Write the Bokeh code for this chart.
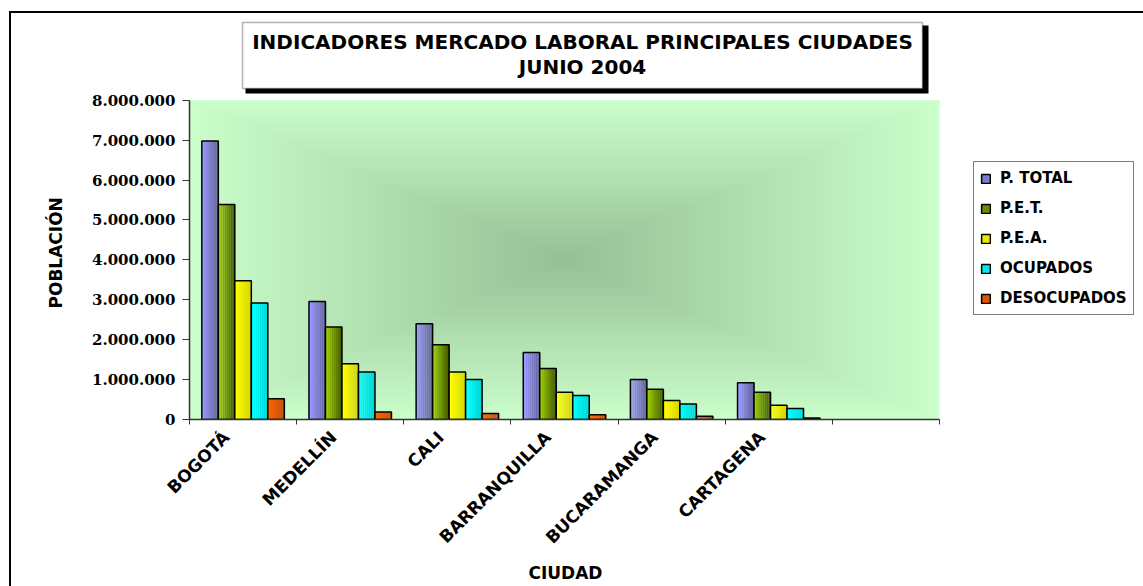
import math
import numpy as np
from bokeh.plotting import figure
from bokeh.models import (ColumnDataSource, Range1d, FixedTicker, CustomJSTickFormatter,
                          Legend, LegendItem, BoxAnnotation, Label, Title, InlineStyleSheet)
from bokeh.transform import dodge
from bokeh.embed import file_html
from bokeh.resources import INLINE

# ---------------- data ----------------
categories = ["BOGOTÁ", "MEDELLÍN", "CALI", "BARRANQUILLA", "BUCARAMANGA", "CARTAGENA", ""]
series_names = ["P. TOTAL", "P.E.T.", "P.E.A.", "OCUPADOS", "DESOCUPADOS"]
p_total = [6980000, 2960000, 2400000, 1680000, 1000000, 920000]
pet = [5390000, 2320000, 1875000, 1280000, 760000, 680000]
pea = [3475000, 1400000, 1190000, 680000, 475000, 360000]
ocupados = [2920000, 1190000, 1000000, 600000, 390000, 275000]
desocupados = [520000, 190000, 150000, 120000, 80000, 40000]
y_ticks = [0, 1000000, 2000000, 3000000, 4000000, 5000000, 6000000, 7000000, 8000000]
title_line1 = "INDICADORES MERCADO LABORAL PRINCIPALES CIUDADES"
title_line2 = "JUNIO 2004"
x_title = "CIUDAD"
y_title = "POBLACIÓN"

# ---------------- styles / geometry ----------------
light = [(153, 153, 255), (153, 204, 0), (255, 255, 0), (0, 255, 255), (255, 102, 0)]
dark = [(102, 102, 160), (72, 96, 0), (215, 215, 0), (0, 215, 215), (200, 75, 0)]
FONT = "DejaVu Sans"
W, H = 1143, 586
PLOT_L, PLOT_R, PLOT_T, PLOT_B = 189, 939, 100, 420   # chart plot-area pixels
NB = "\u00a0"

n_data = len(p_total)
n_cat = len(categories)
positions = [i + 0.5 for i in range(n_cat)]
src = ColumnDataSource(dict(
    x=positions[:n_data], s0=p_total, s1=pet, s2=pea, s3=ocupados, s4=desocupados))

ymax = y_ticks[-1]
x_end = n_cat * (W - PLOT_L) / (PLOT_R - PLOT_L)
y_end = ymax * PLOT_B / (PLOT_B - PLOT_T)

css_bg = ("linear-gradient(#000,#000) 9px 11px / 2px 2000px no-repeat, "
          "linear-gradient(#000,#000) 9px 11px / 3000px 2px no-repeat, #ffffff")
p = figure(width=W, height=H, output_backend="svg", toolbar_location=None,
           x_range=Range1d(0, x_end), y_range=Range1d(0, y_end),
           min_border_left=PLOT_L, min_border_right=0, min_border_top=0,
           min_border_bottom=H - PLOT_B,
           stylesheets=[InlineStyleSheet(css=":host { background: %s; }" % css_bg)])
p.styles = {"background": css_bg}
p.outline_line_color = None
p.background_fill_alpha = 0
p.border_fill_alpha = 0
p.xgrid.grid_line_color = None
p.ygrid.grid_line_color = None

# plot-area background: rectangular "from centre" gradient
gw, gh = 375, 160
u = np.abs((np.arange(gw) + 0.5) / gw * 2 - 1)[None, :]
v = np.abs((np.arange(gh) + 0.5) / gh * 2 - 1)[:, None]
t = np.maximum(u, v)
c0 = np.array([150, 192, 150]); c1 = np.array([204, 255, 204])
img = np.empty((gh, gw), dtype=np.uint32)
view = img.view(dtype=np.uint8).reshape((gh, gw, 4))
for k in range(3):
    view[:, :, k] = (c0[k] + (c1[k] - c0[k]) * t).astype(np.uint8)
view[:, :, 3] = 255
p.image_rgba(image=[img], x=0, y=0, dw=n_cat, dh=ymax, level="image")

# bars with horizontal gradient (strips) + outline
bw = 0.154
NS = 8
legend_items = []
for k in range(5):
    col = "s%d" % k
    base = (k - 2) * bw
    mid_r = None
    for j in range(NS):
        f = j / (NS - 1)
        rgb = tuple(int(light[k][c] + (dark[k][c] - light[k][c]) * f) for c in range(3))
        off = base - bw / 2 + (j + 0.5) * bw / NS
        r = p.vbar(x=dodge("x", off, range=p.x_range), top=col, width=bw / NS * 1.08,
                   source=src, fill_color="#%02x%02x%02x" % rgb, line_color=None)
        if j == NS // 2:
            mid_r = r
    out_r = p.vbar(x=dodge("x", base, range=p.x_range), top=col, width=bw, source=src,
                   fill_color=None, line_color="black", line_width=1.5)
    legend_items.append(LegendItem(label=series_names[k], renderers=[mid_r, out_r]))

# axes
yax = p.yaxis[0]
yax.bounds = (0, ymax)
yax.ticker = FixedTicker(ticks=y_ticks)
yax.formatter = CustomJSTickFormatter(
    code="return Math.round(tick).toString().replace(/\\B(?=(\\d{3})+(?!\\d))/g, '.');")
yax.major_label_text_font = "DejaVu Serif"
yax.major_label_text_font_style = "bold"
yax.major_label_text_font_size = "15px"
yax.major_label_text_color = "black"
yax.major_tick_out = 7
yax.major_tick_in = 0
yax.minor_tick_line_color = None
yax.major_label_standoff = 7
yax.axis_line_color = "#333333"
yax.axis_line_width = 1.5
yax.major_tick_line_color = "#333333"

# axis titles as side titles, placed to be centred on the plot area
p.add_layout(Title(text=y_title, align="left", offset=111,
                   standoff=46, text_font=FONT, text_font_style="bold",
                   text_font_size="17px", text_color="black"), "left")

xax = p.xaxis[0]
xax.bounds = (0, n_cat)
xax.ticker = FixedTicker(ticks=positions, minor_ticks=list(range(n_cat + 1)))
xax.major_label_overrides = {pos: (name + NB * 4 if name else name)
                             for pos, name in zip(positions, categories)}
xax.major_tick_line_color = None
xax.major_tick_out = 0
xax.minor_tick_out = 5
xax.minor_tick_in = 0
xax.minor_tick_line_color = "#333333"
xax.axis_line_color = "#333333"
xax.axis_line_width = 1.5
xax.major_label_orientation = math.pi / 4
xax.major_label_text_font = FONT
xax.major_label_text_font_style = "bold"
xax.major_label_text_font_size = "17px"
xax.major_label_text_color = "black"
xax.major_label_standoff = -7

p.add_layout(Title(text=x_title, align="left", offset=339,
                   standoff=7, text_font=FONT, text_font_style="bold",
                   text_font_size="17px", text_color="black"), "below")

# legend
legend = Legend(items=legend_items, location=(973 - PLOT_L, PLOT_B - 316),
                border_line_color="black", border_line_width=1,
                background_fill_color="white", background_fill_alpha=1,
                label_text_font=FONT, label_text_font_style="bold", label_text_font_size="15px",
                label_text_color="black",
                glyph_width=11, glyph_height=11, label_standoff=9, label_height=20,
                spacing=10, padding=6, margin=0)
p.add_layout(legend, "center")

# title box with shadow
p.add_layout(BoxAnnotation(left=245, right=928, top=25, bottom=93,
                           left_units="canvas", right_units="canvas",
                           top_units="canvas", bottom_units="canvas",
                           fill_color="black", fill_alpha=1, line_color=None))
p.add_layout(BoxAnnotation(left=242, right=922, top=22, bottom=88,
                           left_units="canvas", right_units="canvas",
                           top_units="canvas", bottom_units="canvas",
                           fill_color="white", fill_alpha=1, line_color="black", line_width=1.5))
for txt, yy in [(title_line1, 41), (title_line2, 66)]:
    p.add_layout(Label(x=582, y=yy, x_units="canvas", y_units="canvas", text=txt,
                       text_align="center", text_baseline="middle", text_font=FONT,
                       text_font_style="bold", text_font_size="20px", text_color="black"))

open("out.html", "w").write(file_html(p, INLINE))
